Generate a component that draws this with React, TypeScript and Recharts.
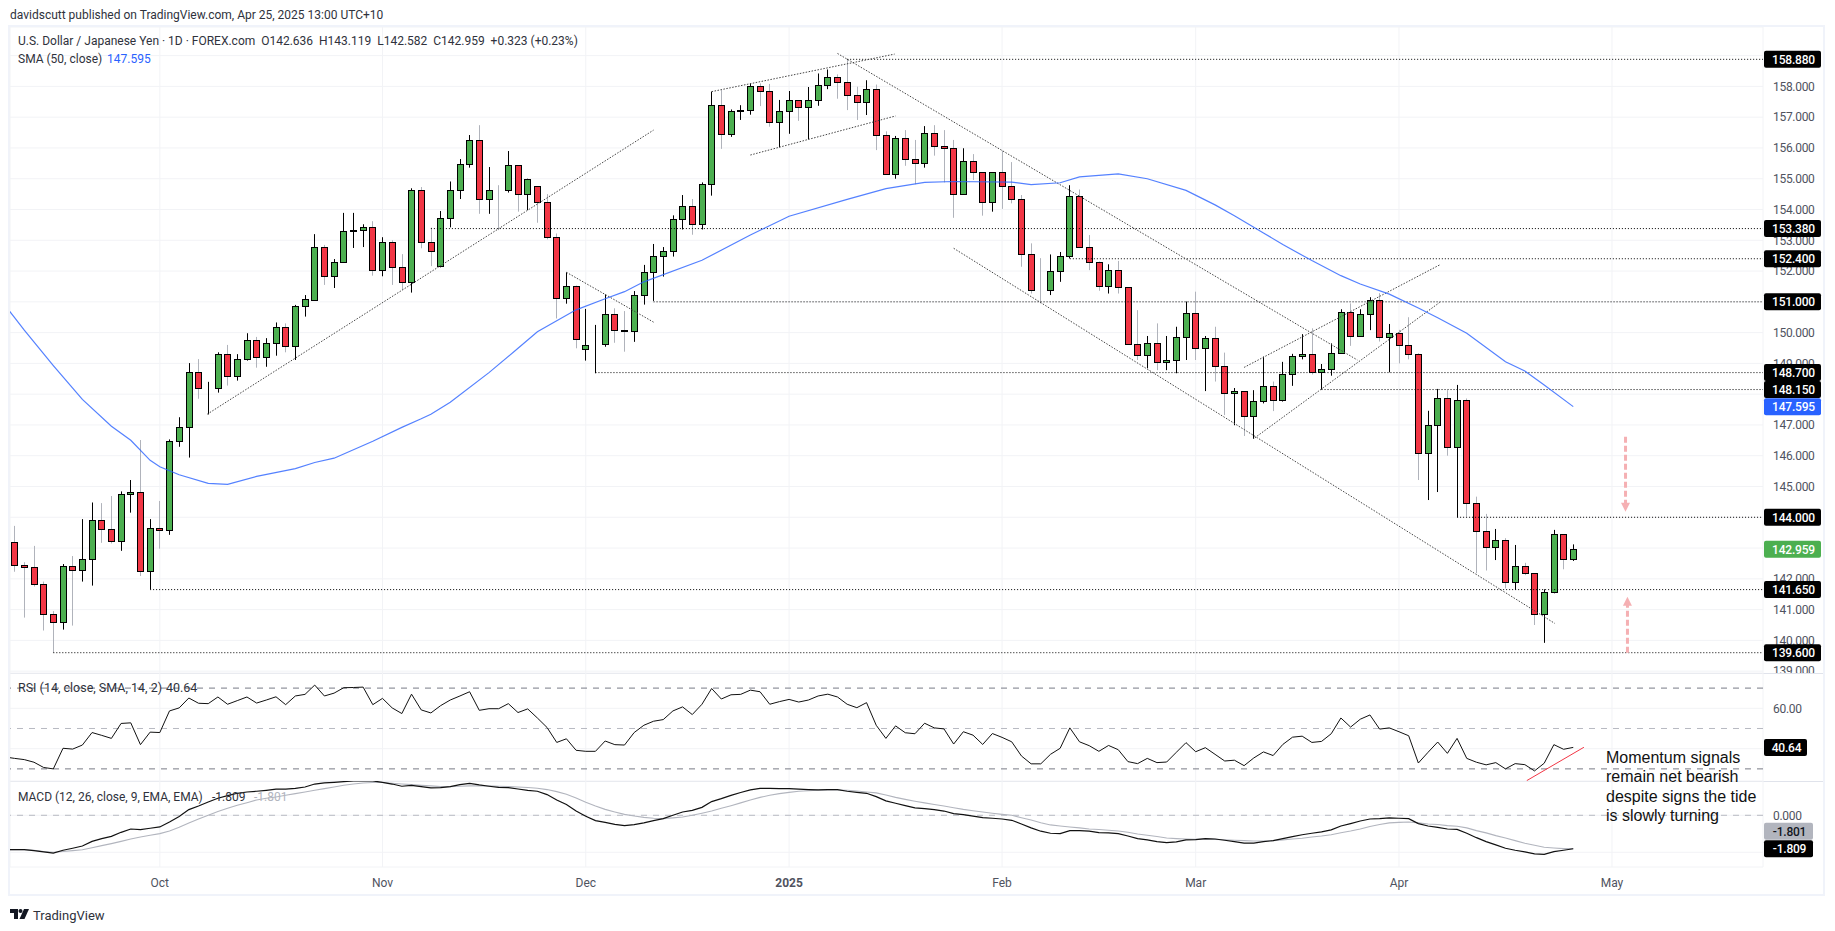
import React from 'react';
import { ComposedChart, Bar, Line, XAxis, YAxis, CartesianGrid, ReferenceLine, ReferenceDot } from 'recharts';

const opens = [143.19,142.44,142.37,141.82,140.85,140.61,142.41,142.28,142.63,143.90,143.61,143.22,144.75,144.81,142.24,143.64,143.58,146.47,146.92,148.71,148.19,148.19,149.29,148.58,149.13,149.75,149.20,149.65,150.19,149.55,150.85,151.06,152.77,151.83,152.31,153.29,153.35,153.42,152.02,152.96,152.12,151.63,154.62,152.93,152.15,153.71,154.62,155.47,156.25,154.33,154.65,154.65,155.43,154.52,154.75,154.23,153.10,151.11,151.53,149.46,149.62,149.62,150.59,150.10,150.04,151.21,151.96,152.48,152.64,153.68,154.13,153.52,154.82,157.41,156.44,157.19,157.22,158.00,157.84,156.83,157.19,157.55,157.32,157.55,158.03,158.32,158.13,157.71,157.48,157.93,156.41,155.14,156.31,155.63,155.50,156.47,156.05,155.99,154.52,155.56,155.21,154.26,155.21,154.75,154.33,152.57,151.40,151.40,151.99,152.48,154.43,152.77,152.31,151.50,152.05,151.47,149.62,149.26,149.67,149.03,149.10,149.85,150.63,149.49,149.81,148.90,148.03,148.09,147.28,147.77,148.26,147.80,148.64,149.23,149.30,148.71,148.81,149.33,150.66,149.88,150.59,151.05,149.85,149.98,149.59,149.29,146.08,146.99,147.86,146.27,147.80,144.45,143.54,143.02,143.25,141.89,142.41,142.18,140.85,141.56,143.45,142.636];
const highs = [143.72,142.54,143.07,141.91,140.95,142.48,142.74,143.94,144.48,144.46,144.69,144.84,145.21,146.51,143.94,144.53,146.53,147.25,149.01,149.14,148.40,149.36,149.60,149.30,149.98,149.86,149.82,150.33,150.30,150.90,151.22,153.20,152.85,152.39,153.89,153.89,153.52,153.62,153.10,153.00,152.55,154.69,154.73,153.41,153.95,154.91,155.64,156.42,156.74,155.38,154.79,155.90,155.43,155.00,154.75,154.50,153.22,151.96,151.53,150.77,150.25,151.24,150.79,150.70,151.35,152.20,152.88,152.78,153.81,154.47,154.34,154.88,157.83,157.88,157.25,157.39,158.10,158.10,158.08,157.56,157.85,157.55,157.98,158.42,158.55,158.39,158.88,157.99,158.20,158.06,156.54,156.39,156.58,156.26,156.71,156.74,156.58,156.26,155.99,155.80,155.21,155.21,155.91,155.54,154.47,152.90,152.42,152.54,152.62,154.79,154.65,153.17,152.31,152.22,152.33,151.47,150.73,149.89,150.30,149.89,150.19,151.01,151.33,149.89,150.19,149.35,148.20,148.09,148.13,149.22,148.41,149.05,149.31,149.95,150.14,148.98,149.65,150.76,150.95,150.76,151.15,151.28,150.28,150.09,150.50,149.33,147.46,148.17,148.13,148.30,147.86,144.67,144.11,143.62,143.32,143.10,142.52,142.18,141.66,143.59,143.45,143.119];
const lows = [142.23,140.74,141.75,140.32,139.60,140.35,140.48,141.91,141.78,143.17,143.15,142.91,144.15,142.09,141.66,142.98,143.43,146.29,145.94,147.85,147.34,148.05,148.28,148.44,149.09,148.86,148.89,149.25,149.36,149.11,150.52,151.04,151.55,151.45,152.30,152.75,152.78,151.85,151.83,151.55,151.38,151.30,152.74,152.16,152.12,153.42,154.34,155.36,153.86,153.86,153.33,154.55,153.93,153.98,153.57,153.03,150.46,150.94,149.49,149.09,148.68,149.54,149.67,149.38,149.70,150.91,151.03,151.82,152.47,153.35,153.18,153.35,154.45,155.97,156.36,156.91,157.08,157.36,156.69,156.02,156.46,156.88,156.28,157.37,157.91,157.60,157.23,156.91,157.07,155.93,155.14,155.00,155.42,154.82,155.36,155.75,154.88,153.73,154.52,154.96,153.80,153.93,154.02,154.20,152.14,151.27,150.95,151.22,151.65,152.41,152.77,152.03,151.36,151.27,151.27,149.62,149.11,148.84,148.78,148.78,148.68,149.11,149.11,148.10,148.41,147.32,146.99,146.64,146.55,147.70,147.45,147.76,148.27,149.13,148.64,148.15,148.60,149.33,149.57,149.88,150.08,149.71,148.71,149.00,149.13,145.21,144.56,144.82,146.00,144.00,144.02,142.18,142.27,142.61,141.69,141.64,142.12,140.50,139.92,141.53,142.31,142.582];
const closes = [142.44,142.37,141.82,140.85,140.61,142.41,142.28,142.63,143.90,143.61,143.22,144.75,144.81,142.24,143.64,143.58,146.47,146.92,148.71,148.19,148.19,149.29,148.58,149.13,149.75,149.20,149.65,150.19,149.55,150.86,151.09,152.77,151.83,152.31,153.29,153.35,153.42,152.02,152.96,152.12,151.63,154.62,152.93,152.64,153.71,154.62,155.47,156.25,154.33,154.65,154.64,155.43,154.52,155.00,154.23,153.10,151.11,151.53,149.78,149.59,149.62,150.59,150.10,150.04,151.21,151.96,152.48,152.64,153.68,154.13,153.52,154.82,157.41,156.44,157.19,157.22,158.00,157.84,156.83,157.19,157.55,157.32,157.55,158.03,158.32,158.13,157.71,157.48,157.93,156.41,155.14,156.31,155.63,155.50,156.47,156.05,155.99,154.52,155.56,155.21,154.26,155.21,154.75,154.33,152.57,151.40,151.39,151.99,152.48,154.43,152.77,152.31,151.50,152.05,151.47,149.62,149.26,149.67,149.03,149.10,149.85,150.63,149.49,149.81,148.90,148.03,148.09,147.28,147.77,148.26,147.80,148.64,149.23,149.30,148.71,148.81,149.33,150.66,149.88,150.59,151.05,149.85,149.98,149.59,149.29,146.08,146.99,147.86,146.27,147.80,144.45,143.54,143.02,143.25,141.89,142.41,142.18,140.85,141.56,143.45,142.64,142.959];

const smaBars = [-1,0,1,4,7,10,12,14,15,17,20,22,25,29,31,33,37,40,42,43,45,49,52,54,58,61,63,65,71,76,80,86,90,94,97,103,105,108,110,114,117,121,124,126,129,131,134,137,139,142,145,147,150,154,156,158,161];
const smaValues = [150.88,150.49,150.08,148.93,147.83,146.96,146.50,145.85,145.64,145.38,145.10,145.07,145.33,145.58,145.78,145.92,146.47,146.92,147.20,147.35,147.74,148.70,149.49,150.03,150.74,151.10,151.33,151.65,152.35,153.17,153.78,154.33,154.68,154.88,154.91,154.89,154.81,154.87,155.06,155.16,155.00,154.62,154.15,153.80,153.24,152.86,152.34,151.85,151.58,151.25,150.80,150.48,149.98,149.05,148.75,148.30,147.595];

const rsiValues = [35.2,34.6,33.3,30.7,30.0,40.2,39.8,41.8,48.0,46.6,45.1,52.5,52.8,42.0,48.2,48.0,58.7,60.2,65.1,62.5,62.3,65.6,62.0,63.8,65.6,62.6,64.1,65.7,61.8,66.1,66.9,71.5,66.1,67.5,70.2,70.3,70.5,61.8,64.9,60.2,57.4,67.0,59.2,57.7,61.3,64.1,66.1,68.2,59.0,59.8,59.8,62.3,57.9,59.7,55.2,50.5,43.1,44.9,39.2,38.7,38.7,43.8,42.0,41.8,48.0,51.6,53.6,54.4,58.7,60.7,56.9,62.0,69.8,64.6,66.7,66.9,69.0,68.2,62.0,63.3,64.4,63.1,64.1,66.1,67.0,65.6,62.0,60.3,62.8,51.6,45.1,51.3,47.9,47.4,52.6,50.3,49.8,42.3,48.4,46.7,42.1,47.5,45.6,43.4,36.4,32.5,32.5,37.2,40.2,50.3,43.4,41.5,38.7,41.6,39.5,33.6,32.6,35.2,33.1,33.4,38.2,43.0,38.5,40.5,37.2,33.9,34.3,31.6,35.4,38.4,36.6,42.1,45.7,46.2,43.1,43.6,47.4,55.2,50.7,54.6,56.7,49.7,50.3,48.4,46.4,32.9,38.2,43.3,37.7,45.1,35.2,33.3,32.0,33.1,30.0,32.6,32.1,29.0,32.8,42.0,39.7,40.64];

const macdValues = [-1.86,-1.86,-1.91,-1.98,-2.04,-1.89,-1.78,-1.66,-1.41,-1.26,-1.14,-0.92,-0.74,-0.77,-0.70,-0.63,-0.36,-0.07,0.31,0.50,0.72,0.92,1.06,1.19,1.26,1.30,1.35,1.41,1.41,1.46,1.53,1.69,1.75,1.78,1.82,1.86,1.86,1.86,1.78,1.69,1.57,1.62,1.55,1.48,1.50,1.55,1.66,1.73,1.64,1.57,1.51,1.50,1.42,1.35,1.30,1.12,0.83,0.58,0.23,-0.05,-0.29,-0.38,-0.49,-0.56,-0.50,-0.41,-0.29,-0.18,0,0.18,0.27,0.43,0.74,0.90,1.08,1.23,1.37,1.46,1.46,1.44,1.44,1.41,1.39,1.37,1.39,1.39,1.30,1.24,1.19,1.01,0.78,0.65,0.52,0.40,0.36,0.31,0.23,0.09,0.04,-0.04,-0.13,-0.16,-0.20,-0.27,-0.47,-0.68,-0.86,-0.97,-0.99,-0.83,-0.83,-0.86,-0.94,-0.95,-0.99,-1.12,-1.26,-1.33,-1.42,-1.48,-1.44,-1.33,-1.32,-1.26,-1.28,-1.35,-1.42,-1.50,-1.50,-1.42,-1.37,-1.26,-1.15,-1.05,-0.97,-0.90,-0.79,-0.58,-0.45,-0.31,-0.20,-0.18,-0.14,-0.16,-0.18,-0.45,-0.58,-0.65,-0.74,-0.76,-0.97,-1.21,-1.42,-1.60,-1.78,-1.89,-1.98,-2.09,-2.11,-1.96,-1.89,-1.809];
const signalValues = [-1.86,-1.86,-1.89,-1.96,-2.00,-1.96,-1.91,-1.86,-1.75,-1.64,-1.53,-1.41,-1.28,-1.17,-1.08,-0.99,-0.85,-0.65,-0.41,-0.20,0,0.20,0.38,0.54,0.68,0.83,0.92,0.99,1.08,1.17,1.26,1.35,1.44,1.53,1.62,1.69,1.75,1.77,1.77,1.73,1.69,1.66,1.62,1.59,1.55,1.55,1.57,1.59,1.59,1.59,1.57,1.55,1.53,1.50,1.46,1.39,1.28,1.14,0.94,0.70,0.50,0.32,0.18,0.05,-0.04,-0.11,-0.16,-0.18,-0.14,-0.09,0,0.11,0.23,0.38,0.52,0.67,0.83,0.97,1.08,1.17,1.24,1.30,1.33,1.35,1.37,1.37,1.35,1.31,1.26,1.21,1.10,0.97,0.86,0.76,0.67,0.58,0.50,0.41,0.32,0.25,0.18,0.11,0.05,0,-0.13,-0.25,-0.40,-0.52,-0.58,-0.63,-0.68,-0.74,-0.77,-0.81,-0.85,-0.92,-1.01,-1.08,-1.15,-1.23,-1.26,-1.28,-1.30,-1.28,-1.30,-1.32,-1.35,-1.37,-1.39,-1.39,-1.37,-1.33,-1.28,-1.24,-1.17,-1.12,-1.05,-0.94,-0.85,-0.74,-0.61,-0.50,-0.41,-0.38,-0.36,-0.41,-0.47,-0.50,-0.56,-0.59,-0.68,-0.83,-0.95,-1.10,-1.23,-1.37,-1.51,-1.62,-1.73,-1.77,-1.80,-1.801];

// values of the indicators on the bar just left of the first candle (only its slope shows at the pane's edge)
const leadRsi = 35.9;
const leadMacd = -1.86;
const leadSignal = -1.86;

const monthBars = [15, 38, 59, 80, 102, 122, 143, 165];
const monthLabels = ['Oct', 'Nov', 'Dec', '2025', 'Feb', 'Mar', 'Apr', 'May'];
const priceTicks = [139,140,141,142,143,144,145,146,147,148,149,150,151,152,153,154,155,156,157,158,159];

// start bar, price of the horizontal level lines
const levelStarts = [86, 43, 109, 66, 60, 135, 149, 14, 4];
const levelPrices = [158.88, 153.38, 152.4, 151.0, 148.7, 148.15, 144.0, 141.65, 139.6];
// x1, y1, x2, y2 of the drawn trend lines
const trendLines = [
  [19.9,147.35,66,156.58],[57,151.96,66,150.34],[72,157.83,90.9,159.05],[76,155.77,91,157.04],
  [85,159.07,138.7,149.11],[97,152.74,159.1,140.55],[127,148.87,147.2,152.2],[128.1,146.58,147.2,150.98],
];

const smaAt = (i: number) => {
  const s = smaBars.indexOf(i);
  return s >= 0 ? smaValues[s] : null;
};
const rows: any[] = [
  { i: -1, sma: smaAt(-1), rsi: leadRsi, macd: leadMacd, signal: leadSignal },
  ...opens.map((open, i) => ({
    i, open, close: closes[i], high: highs[i], low: lows[i], range: [lows[i], highs[i]],
    sma: smaAt(i), rsi: rsiValues[i], macd: macdValues[i], signal: signalValues[i],
  })),
];

const X_DOMAIN: [number, number] = [-0.475, 180.6];
const PRICE_DOMAIN: [number, number] = [138.94, 159.93];
const RSI_DOMAIN: [number, number] = [24, 77.48];
const MACD_DOMAIN: [number, number] = [-2.795, 1.854];
const FONT = 'Roboto, sans-serif';
const GRID = '#f2f3f6';
const AXIS_TEXT = '#4f5360';
const CHART_W = 1835;
const MARGIN = { top: 0, right: 10, bottom: 0, left: 10 };

const Candle = (p: any) => {
  const { x, y, width, height, payload } = p;
  if (payload.high === undefined) return null;
  const cx = Math.round(x + width / 2);
  const k = height / (payload.high - payload.low || 1);
  const yOf = (v: number) => y + (payload.high - v) * k;
  const top = yOf(Math.max(payload.open, payload.close));
  const bot = yOf(Math.min(payload.open, payload.close));
  const up = payload.close >= payload.open;
  return (
    <g>
      <line x1={cx + 0.5} x2={cx + 0.5} y1={y} y2={y + height} stroke={up ? '#000' : '#b0b3bb'} strokeWidth={1} />
      <rect x={cx - 2.5} width={6} y={Math.round(top) + 0.5} height={Math.max(Math.round(bot) - Math.round(top), 0)} fill={up ? '#4caf50' : '#f23645'} stroke="#000" strokeWidth={1} />
    </g>
  );
};

const Badge = (bg: string, label: string, w = 57, color = '#fff') => (p: any) => (
  <g>
    <rect x={p.cx + 1} y={p.cy - 8.5} width={w} height={17} rx={2} fill={bg} />
    <text x={p.cx + 1 + w / 2 + 1} y={p.cy + 4.3} textAnchor="middle" fontFamily={FONT} fontSize={12} fontWeight={500} letterSpacing={-0.2} fill={color}>{label}</text>
  </g>
);

const Arrow = (dir: number) => (p: any) => (
  <polygon points={`${p.cx},${p.cy} ${p.cx - 4.5},${p.cy - dir * 9} ${p.cx + 4.5},${p.cy - dir * 9}`} fill="#f5b0b3" />
);

const YTick = (digits: number) => (p: any) => (
  <text x={p.x + 2} y={p.y + 4.3} fontFamily={FONT} fontSize={12} letterSpacing={-0.3} fill={AXIS_TEXT}>{Number(p.payload.value).toFixed(digits)}</text>
);

const XTick = (p: any) => {
  const label = monthLabels[monthBars.indexOf(p.payload.value)];
  return (
    <text x={p.x} y={p.y + 12} textAnchor="middle" fontFamily={FONT} fontSize={12} fontWeight={label === '2025' ? 700 : 400} fill={AXIS_TEXT}>{label}</text>
  );
};

const Txt = ({ x, y, size = 12, color = '#2f323c', font = FONT, children }: any) => (
  <div style={{ position: 'absolute', left: x, top: y, fontFamily: font, fontSize: size, color, whiteSpace: 'pre', lineHeight: 1 }}>{children}</div>
);

// Transparent chart on top of a pane, so that the price badges cover the axis labels as they do in the reference.
const BadgeLayer = ({ top, height, bottom = 0, domain, badges }: any) => (
  <div style={{ position: 'absolute', left: 0, top }}>
    <ComposedChart width={CHART_W} height={height} data={rows} margin={{ top: 0, right: 72, bottom, left: 10 }}>
      <XAxis dataKey="i" type="number" domain={X_DOMAIN} allowDataOverflow hide />
      <YAxis domain={domain} allowDataOverflow hide />
      {badges.map((b: any, k: number) => (
        <ReferenceDot key={k} x={X_DOMAIN[1]} y={b.y} shape={Badge(b.bg, b.text, b.w, b.color)} />
      ))}
    </ComposedChart>
  </div>
);

const priceBadges = [
  ...levelPrices.map((v) => ({ y: v, bg: '#000', text: v.toFixed(3) })),
  { y: 147.595, bg: '#2962ff', text: '147.595' },
  { y: 142.959, bg: '#4caf50', text: '142.959' },
];
const rsiBadges = [{ y: 40.64, bg: '#000', text: '40.64', w: 43 }];
const macdBadges = [
  { y: -0.865, bg: '#b2b5be', text: '-1.801', w: 49, color: '#131722' },
  { y: -1.809, bg: '#000', text: '-1.809', w: 49 },
];

export default function App() {
  return (
    <div style={{ position: 'absolute', left: 0, top: 0, width: 1835, height: 931, background: '#fff', overflow: 'hidden' }}>
      <Txt x={10} y={9} size={12}>davidscutt published on TradingView.com, Apr 25, 2025 13:00 UTC+10</Txt>
      <div style={{ position: 'absolute', left: 8, top: 25, width: 1813, height: 867, border: '2px solid #f0f3fa' }} />
      <div style={{ position: 'absolute', left: 10, top: 673, width: 1813, height: 1, background: '#e0e3eb' }} />
      <div style={{ position: 'absolute', left: 10, top: 781, width: 1813, height: 1, background: '#e0e3eb' }} />

      <div style={{ position: 'absolute', left: 0, top: 27 }}>
        <ComposedChart width={CHART_W} height={646} data={rows} margin={MARGIN}>
          <CartesianGrid stroke={GRID} />
          <XAxis dataKey="i" type="number" domain={X_DOMAIN} ticks={monthBars} allowDataOverflow hide />
          <YAxis orientation="right" width={62} domain={PRICE_DOMAIN} ticks={priceTicks} interval={0} allowDataOverflow axisLine={false} tickLine={false} tick={YTick(3)} />
          {levelPrices.map((v, k) => (
            <ReferenceLine key={k} segment={[{ x: levelStarts[k], y: v }, { x: X_DOMAIN[1], y: v }]} stroke="#000" strokeWidth={1} strokeDasharray="1 2" />
          ))}
          {trendLines.map((t, k) => (
            <ReferenceLine key={`t${k}`} segment={[{ x: t[0], y: t[1] }, { x: t[2], y: t[3] }]} stroke="#444" strokeWidth={1} strokeDasharray="1.5 1.5" />
          ))}
          <Bar dataKey="range" barSize={7} shape={Candle} isAnimationActive={false} />
          <Line dataKey="sma" stroke="#2962ff" strokeWidth={1.2} strokeOpacity={0.8} dot={false} connectNulls isAnimationActive={false} />
          <ReferenceLine segment={[{ x: 166.4, y: 146.62 }, { x: 166.4, y: 144.4 }]} stroke="#f5b0b3" strokeWidth={3} strokeDasharray="6 3" />
          <ReferenceLine segment={[{ x: 166.6, y: 139.6 }, { x: 166.6, y: 141.2 }]} stroke="#f5b0b3" strokeWidth={3} strokeDasharray="6 3" />
          <ReferenceDot x={166.4} y={144.18} shape={Arrow(1)} />
          <ReferenceDot x={166.6} y={141.42} shape={Arrow(-1)} />
        </ComposedChart>
      </div>
      <BadgeLayer top={27} height={646} domain={PRICE_DOMAIN} badges={priceBadges} />

      <div style={{ position: 'absolute', left: 0, top: 673 }}>
        <ComposedChart width={CHART_W} height={108} data={rows} margin={MARGIN}>
          <CartesianGrid stroke={GRID} />
          <XAxis dataKey="i" type="number" domain={X_DOMAIN} ticks={monthBars} allowDataOverflow hide />
          <YAxis orientation="right" width={62} domain={RSI_DOMAIN} ticks={[40, 60]} interval={0} allowDataOverflow axisLine={false} tickLine={false} tick={YTick(2)} />
          <ReferenceLine y={70} stroke="#787b86" strokeDasharray="6 6" />
          <ReferenceLine y={50} stroke="#b8bac2" strokeDasharray="6 6" />
          <ReferenceLine y={30} stroke="#787b86" strokeDasharray="6 6" />
          <ReferenceLine segment={[{ x: 156.2, y: 24.2 }, { x: 162.1, y: 40.7 }]} stroke="#f23645" strokeWidth={1} />
          <Line dataKey="rsi" stroke="#111" strokeWidth={1} dot={false} isAnimationActive={false} />
        </ComposedChart>
      </div>
      <BadgeLayer top={673} height={108} domain={RSI_DOMAIN} badges={rsiBadges} />

      <div style={{ position: 'absolute', left: 0, top: 781 }}>
        <ComposedChart width={CHART_W} height={115} data={rows} margin={MARGIN}>
          <CartesianGrid stroke={GRID} />
          <XAxis dataKey="i" type="number" domain={X_DOMAIN} ticks={monthBars} interval={0} allowDataOverflow height={29} axisLine={false} tickLine={false} tick={XTick} />
          <YAxis orientation="right" width={62} domain={MACD_DOMAIN} ticks={[-2, 0]} interval={0} allowDataOverflow axisLine={false} tickLine={false} tick={YTick(3)} />
          <ReferenceLine y={0} stroke="#b8bac2" strokeDasharray="6 6" />
          <Line dataKey="signal" stroke="#b2b5be" strokeWidth={1.1} dot={false} isAnimationActive={false} />
          <Line dataKey="macd" stroke="#111" strokeWidth={1.2} dot={false} isAnimationActive={false} />
        </ComposedChart>
      </div>
      <BadgeLayer top={781} height={115} bottom={29} domain={MACD_DOMAIN} badges={macdBadges} />

      <Txt x={18} y={35} size={12}>{'U.S. Dollar / Japanese Yen · 1D · FOREX.com  O142.636  H143.119  L142.582  C142.959  +0.323 (+0.23%)'}</Txt>
      <Txt x={18} y={53} size={12}>SMA (50, close)</Txt>
      <Txt x={107} y={53} size={12} color="#2962ff">147.595</Txt>
      <Txt x={18} y={682} size={12.5}>RSI (14, close, SMA, 14, 2)</Txt>
      <Txt x={166} y={682} size={12.5}>40.64</Txt>
      <Txt x={18} y={791} size={12}>MACD (12, 26, close, 9, EMA, EMA)</Txt>
      <Txt x={212} y={791} size={12}>-1.809</Txt>
      <Txt x={254} y={791} size={12} color="#b2b5be">-1.801</Txt>

      <Txt x={1606} y={750} size={16} font="'Liberation Sans', Arial, sans-serif" color="#111">Momentum signals</Txt>
      <Txt x={1606} y={769} size={16} font="'Liberation Sans', Arial, sans-serif" color="#111">remain net bearish</Txt>
      <Txt x={1606} y={789} size={16} font="'Liberation Sans', Arial, sans-serif" color="#111">despite signs the tide</Txt>
      <Txt x={1606} y={808} size={16} font="'Liberation Sans', Arial, sans-serif" color="#111">is slowly turning</Txt>

      <svg style={{ position: 'absolute', left: 10, top: 909 }} width={20} height={12} viewBox="0 0 20 12">
        <path d="M0 0h8v10H4V4H0z" fill="#131722" />
        <circle cx="10.5" cy="2" r="2" fill="#131722" />
        <path d="M14 0h5l-4.5 10H9.5z" fill="#131722" />
      </svg>
      <Txt x={33} y={909} size={13}>TradingView</Txt>
    </div>
  );
}
